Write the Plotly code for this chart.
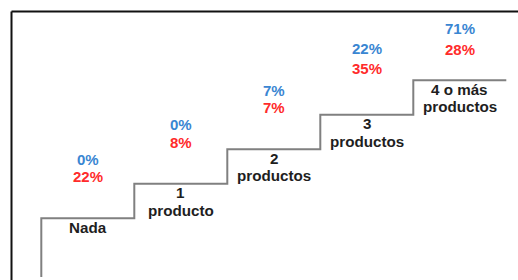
import plotly.graph_objects as go

# ---- data ----
categories = ["Nada", "1\nproducto", "2\nproductos", "3\nproductos", "4 o más\nproductos"]
blue_values = [0, 0, 7, 22, 71]
red_values = [22, 8, 7, 35, 28]

# ---- styling / placement (pixels above each tread) ----
blue_offset = [59, 59, 59, 66, 52]
red_offset = [42, 41, 42, 46, 31]
BLUE = "#3a86d2"
RED = "#ff2b2b"
STAIR = "#808080"
W, H = 518, 280
FONT = "Liberation Sans, Arial, sans-serif"

n = len(categories)

# staircase built from category index (x) and step level (y)
xs = [0, 0]
ys = [-1.7, 0]
for i in range(n):
    xs.append(i + 1)
    ys.append(i)
    if i < n - 1:
        xs.append(i + 1)
        ys.append(i + 1)

fig = go.Figure()
fig.add_trace(go.Scatter(x=xs, y=ys, mode="lines",
                         line=dict(color=STAIR, width=2), hoverinfo="skip",
                         showlegend=False))

ann = []
for i, cat in enumerate(categories):
    lines = cat.split("\n")
    for j, ln in enumerate(lines):
        ann.append(dict(x=i + 0.5, y=i, xref="x", yref="y", text="<b>%s</b>" % ln,
                        showarrow=False, yshift=-9 - 17.5 * j,
                        font=dict(family=FONT, size=15.2, color="#1e1e1e")))
    ann.append(dict(x=i + 0.5, y=i, xref="x", yref="y", text="<b>%d%%</b>" % blue_values[i],
                    showarrow=False, yshift=blue_offset[i],
                    font=dict(family=FONT, size=15, color=BLUE)))
    ann.append(dict(x=i + 0.5, y=i, xref="x", yref="y", text="<b>%d%%</b>" % red_values[i],
                    showarrow=False, yshift=red_offset[i],
                    font=dict(family=FONT, size=15, color=RED)))

fx = 11.5 / W
fy = 1 - 11.5 / H
shapes = [
    dict(type="line", xref="paper", yref="paper", x0=fx, x1=1.01, y0=fy, y1=fy,
         line=dict(color="#111111", width=2)),
    dict(type="line", xref="paper", yref="paper", x0=fx, x1=fx, y0=fy, y1=-0.01,
         line=dict(color="#111111", width=2)),
]

px_per_x = 93.0
px_per_y = 34.5
x0_px = 41.3
tread0_px = 218.3

fig.update_layout(
    width=W, height=H,
    margin=dict(l=0, r=0, t=0, b=0),
    paper_bgcolor="white", plot_bgcolor="white",
    xaxis=dict(range=[-x0_px / px_per_x, (W - x0_px) / px_per_x], visible=False, fixedrange=True),
    yaxis=dict(range=[(tread0_px - H) / px_per_y, tread0_px / px_per_y], visible=False, fixedrange=True),
    annotations=ann, shapes=shapes, showlegend=False,
)

fig.write_html("out.html", config={"displayModeBar": False},
               post_script="document.body.style.margin='0';document.body.style.overflow='hidden';")
